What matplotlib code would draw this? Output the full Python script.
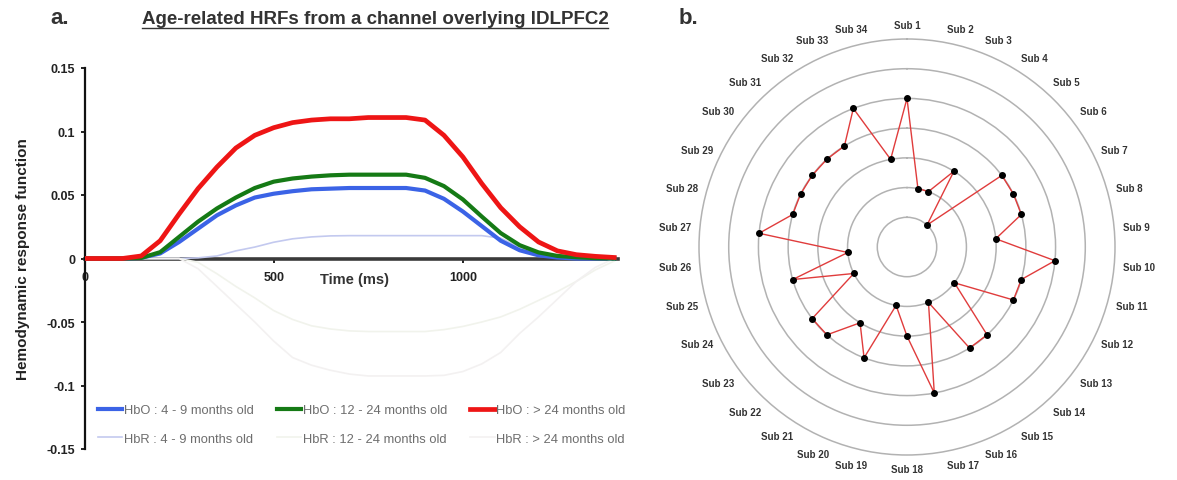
import numpy as np
import matplotlib
matplotlib.use("Agg")
import matplotlib.pyplot as plt
from matplotlib.lines import Line2D

plt.rcParams['font.family'] = ['Liberation Sans', 'DejaVu Sans']

# ---------------- data: panel a ----------------
time_ms = [0, 50, 100, 150, 200, 250, 300, 350, 400, 450, 500, 550, 600, 650, 700,
           750, 800, 850, 900, 950, 1000, 1050, 1100, 1150, 1200, 1250, 1300, 1350, 1400]
hbo_4_9 = [0, 0, 0, 0.0005, 0.004, 0.013, 0.0235, 0.034, 0.0418, 0.048, 0.051, 0.053, 0.0545, 0.055, 0.0555,
           0.0555, 0.0555, 0.0555, 0.0535, 0.047, 0.037, 0.0255, 0.014, 0.0065, 0.0025, 0.0008, 0, 0, 0]
hbo_12_24 = [0, 0, 0, 0.0005, 0.005, 0.017, 0.029, 0.0394, 0.048, 0.0555, 0.0605, 0.063, 0.0645, 0.0655, 0.066,
             0.066, 0.066, 0.066, 0.0635, 0.057, 0.0465, 0.033, 0.020, 0.0105, 0.0048, 0.002, 0.001, 0.0003, 0]
hbo_24 = [0, 0, 0, 0.002, 0.014, 0.035, 0.055, 0.072, 0.087, 0.097, 0.103, 0.107, 0.109, 0.110, 0.110,
          0.111, 0.111, 0.111, 0.109, 0.097, 0.080, 0.059, 0.040, 0.025, 0.013, 0.006, 0.003, 0.0017, 0.0008]
hbr_4_9 = [0, 0, 0, 0, 0, 0, 0.0005, 0.002, 0.006, 0.009, 0.0128, 0.0155, 0.017, 0.0178, 0.018,
           0.018, 0.018, 0.018, 0.018, 0.018, 0.018, 0.018, 0.016, 0.009, 0.003, 0.0005, 0, 0, 0]
hbr_12_24 = [0, 0, 0, 0, 0, 0, -0.003, -0.012, -0.022, -0.031, -0.041, -0.048, -0.053, -0.0555, -0.057,
             -0.0575, -0.0575, -0.0575, -0.0575, -0.056, -0.0535, -0.050, -0.046, -0.040, -0.033, -0.026, -0.018, -0.009, -0.002]
hbr_24 = [0, 0, 0, 0, 0, 0, -0.008, -0.022, -0.036, -0.050, -0.065, -0.078, -0.084, -0.088, -0.091,
          -0.0925, -0.0925, -0.0925, -0.0925, -0.092, -0.089, -0.083, -0.074, -0.059, -0.046, -0.032, -0.018, -0.007, 0]

labels_hbo = ["HbO : 4 - 9 months old", "HbO : 12 - 24 months old", "HbO : > 24 months old"]
labels_hbr = ["HbR : 4 - 9 months old", "HbR : 12 - 24 months old", "HbR : > 24 months old"]
y_ticks = [-0.15, -0.1, -0.05, 0, 0.05, 0.1, 0.15]
y_tick_labels = ["-0.15", "-0.1", "-0.05", "0", "0.05", "0.1", "0.15"]
x_ticks = [0, 500, 1000]
x_tick_labels = ["0", "500", "1000"]

# ---------------- data: panel b ----------------
subjects = [f"Sub {i}" for i in range(1, 35)]
sub_values = [5, 2, 2, 3, 1, 4, 4, 4, 3, 5, 4, 4, 2, 4, 4, 2, 5, 3, 2, 4, 3, 4, 4, 2, 4, 2, 5,
              4, 4, 4, 4, 4, 5, 3]

W, H = 1177, 481
fig = plt.figure(figsize=(W / 100, H / 100), dpi=100)

# ---------------- panel a ----------------
ax = fig.add_axes([84.5 / W, 1 - 450 / H, (618 - 84.5) / W, 381 / H])
c_hbo = ['#3b63e6', '#157a15', '#ee1515']
c_hbr = ['#c3c9ef', '#f1f3ec', '#f3f1f1']
l_hbr1, = ax.plot(time_ms, hbr_4_9, color=c_hbr[0], lw=1.2, zorder=3, label=labels_hbr[0])
l_hbr2, = ax.plot(time_ms, hbr_12_24, color=c_hbr[1], lw=1.2, zorder=3, label=labels_hbr[1])
l_hbr3, = ax.plot(time_ms, hbr_24, color=c_hbr[2], lw=1.2, zorder=3, label=labels_hbr[2])
l_hbo1, = ax.plot(time_ms, hbo_4_9, color=c_hbo[0], lw=3.0, zorder=4, label=labels_hbo[0],
                  solid_joinstyle='round')
l_hbo2, = ax.plot(time_ms, hbo_12_24, color=c_hbo[1], lw=3.0, zorder=5, label=labels_hbo[1],
                  solid_joinstyle='round')
l_hbo3, = ax.plot(time_ms, hbo_24, color=c_hbo[2], lw=3.4, zorder=6, label=labels_hbo[2],
                  solid_joinstyle='round')

ax.set_xlim(0, 1410)
ax.set_ylim(-0.15, 0.15)
ax.spines['top'].set_visible(False)
ax.spines['right'].set_visible(False)
ax.spines['bottom'].set_position(('data', 0))
ax.spines['bottom'].set_color('#3a3a3a')
ax.spines['bottom'].set_linewidth(2.6)
ax.spines['bottom'].set_zorder(2)
ax.spines['left'].set_color('#111111')
ax.spines['left'].set_linewidth(1.6)
ax.set_yticks(y_ticks)
ax.set_yticklabels(y_tick_labels)
ax.set_xticks(x_ticks)
ax.set_xticklabels(x_tick_labels)
ax.tick_params(axis='both', labelsize=9, colors='#222222', width=1.4, length=3)
ax.tick_params(axis='x', pad=6)
for lab in ax.get_xticklabels() + ax.get_yticklabels():
    lab.set_fontweight('bold')
ax.set_ylabel("Hemodynamic response function", fontsize=11, fontweight='bold',
              color='#222222', labelpad=12)
ax.text(714, -0.0165, "Time (ms)", fontsize=10.5, fontweight='bold', color='#333333',
        ha='center', va='center')

handles = [l_hbo1, l_hbr1, l_hbo2, l_hbr2, l_hbo3, l_hbr3]
leg = ax.legend(handles=handles, labels=[h.get_label() for h in handles], ncol=3,
                loc='upper left', bbox_to_anchor=(0.025, 0.118), frameon=False,
                fontsize=9.3, labelcolor='#6e6e6e', handlelength=1.9, handletextpad=0.1,
                columnspacing=1.8, labelspacing=1.3, borderpad=0, borderaxespad=0)

fig.text(60 / W, 1 - 19 / H, "a.", fontsize=16, fontweight='bold', color='#333333',
         ha='center', va='center')
title = fig.text(375 / W, 1 - 19 / H, "Age-related HRFs from a channel overlying lDLPFC2",
                 fontsize=13.5, fontweight='bold', color='#333333', ha='center', va='center')

# ---------------- panel b ----------------
cx, cy, R = 907, 248, 208
pax = fig.add_axes([(cx - R) / W, 1 - (cy + R) / H, 2 * R / W, 2 * R / H], projection='polar')
pax.set_theta_zero_location('N')
pax.set_theta_direction(-1)
n = len(subjects)
theta = [2 * np.pi * i / n for i in range(n)]
pax.plot(theta + [theta[0]], sub_values + [sub_values[0]], color='#e03c3c', lw=1.0, zorder=3)
pax.plot(theta, sub_values, 'o', color='black', ms=4, zorder=4)
pax.set_ylim(0, 7)
pax.set_rgrids([1, 2, 3, 4, 5, 6], labels=[''] * 6)
pax.set_xticks([])
pax.grid(True, axis='y', color='#b2b2b2', lw=1.1)
pax.spines['polar'].set_color('#b2b2b2')
pax.spines['polar'].set_linewidth(1.1)
for th, name in zip(theta, subjects):
    s, c = np.sin(th), np.cos(th)
    ha = 'left' if s > 0.1 else ('right' if s < -0.1 else 'center')
    va = 'bottom' if c > 0.5 else ('top' if c < -0.5 else 'center')
    pax.text(th, 7.3, name, fontsize=7, fontweight='bold', color='#333333',
             ha=ha, va=va, clip_on=False)

fig.text(688 / W, 1 - 18 / H, "b.", fontsize=16, fontweight='bold', color='#333333',
         ha='center', va='center')

# underline title
fig.canvas.draw()
bb = title.get_window_extent()
fig.add_artist(Line2D([bb.x0 / W, bb.x1 / W], [(bb.y0 - 1) / H, (bb.y0 - 1) / H],
                      transform=fig.transFigure, color='#333333', lw=1.0))

fig.savefig("out.png", dpi=100, facecolor='white')
